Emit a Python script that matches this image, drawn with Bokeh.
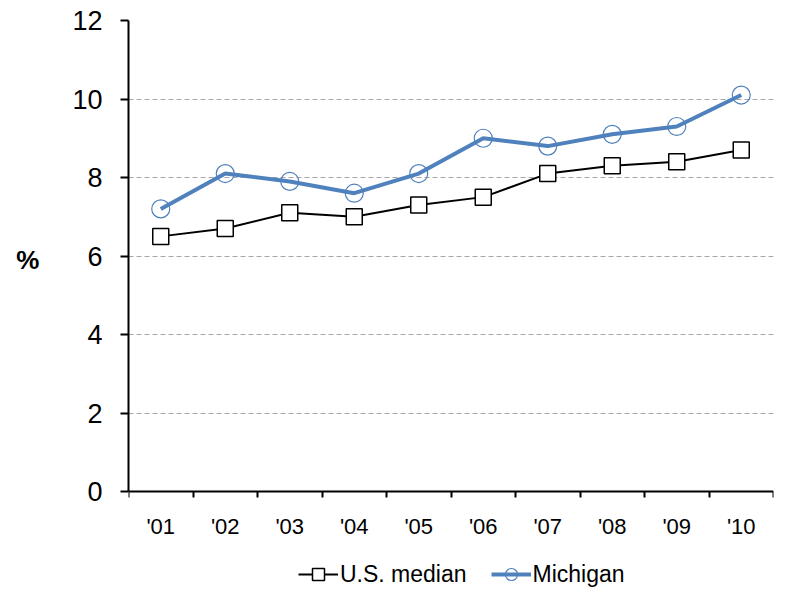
from bokeh.plotting import figure
from bokeh.models import (FixedTicker, Range1d, Legend, LegendItem)
from bokeh.embed import file_html
from bokeh.resources import INLINE

years = ["'01", "'02", "'03", "'04", "'05", "'06", "'07", "'08", "'09", "'10"]
us_median = [6.5, 6.7, 7.1, 7.0, 7.3, 7.5, 8.1, 8.3, 8.4, 8.7]
michigan = [7.2, 8.1, 7.9, 7.6, 8.1, 9.0, 8.8, 9.1, 9.3, 10.1]
y_ticks = [0, 2, 4, 6, 8, 10, 12]

FONT = "Liberation Sans"
BLUE = "#4F81BD"

xs = [i + 0.5 for i in range(len(years))]

# layout in pixels: plot area 471 px tall for 0..12, extra room below for
# the category labels and the legend
H, TOP, PLOT_H = 589, 20, 471
below_units = (H - TOP - PLOT_H) * 12.0 / PLOT_H

p = figure(width=796, height=H, output_backend="svg", toolbar_location=None,
           x_range=Range1d(0, len(years)), y_range=Range1d(-below_units, 12),
           min_border_left=128, min_border_right=23, min_border_top=TOP,
           min_border_bottom=0)
p.outline_line_color = None
p.background_fill_color = "white"

# x axis drawn at y = 0: labels at category centres, ticks at boundaries
p.xaxis.fixed_location = 0
p.xaxis.ticker = FixedTicker(ticks=xs, minor_ticks=list(range(len(years) + 1)))
p.xaxis.major_label_overrides = {x: lab for x, lab in zip(xs, years)}
p.xaxis.major_tick_line_color = None
p.xaxis.major_tick_out = 0
p.xaxis.major_tick_in = 0
p.xaxis.minor_tick_line_color = "black"
p.xaxis.minor_tick_line_width = 2
p.xaxis.minor_tick_out = 6
p.xaxis.minor_tick_in = 0
p.xaxis.axis_line_width = 2
p.xaxis.axis_line_color = "black"
p.xaxis.major_label_text_font = FONT
p.xaxis.major_label_text_font_size = "22px"
p.xaxis.major_label_text_color = "black"
p.xaxis.major_label_standoff = 16

# y axis
p.yaxis.bounds = (0, 12)
p.yaxis.ticker = FixedTicker(ticks=y_ticks)
p.yaxis.minor_tick_line_color = None
p.yaxis.major_tick_out = 8
p.yaxis.major_tick_in = 0
p.yaxis.major_tick_line_width = 2
p.yaxis.axis_line_width = 2
p.yaxis.axis_line_color = "black"
p.yaxis.major_label_text_font = FONT
p.yaxis.major_label_text_font_size = "27px"
p.yaxis.major_label_text_color = "black"
p.yaxis.major_label_standoff = 18
# "%" sits as first line of a 4-line block so it lines up with the 0..12 span
p.yaxis.axis_label = "%\n\n\n"
p.yaxis.axis_label_orientation = "horizontal"
p.yaxis.axis_label_text_font = FONT
p.yaxis.axis_label_text_font_style = "bold"
p.yaxis.axis_label_text_font_size = "26px"
p.yaxis.axis_label_text_line_height = 1.0
p.yaxis.axis_label_text_color = "black"
p.yaxis.axis_label_standoff = 30

p.xgrid.grid_line_color = None
p.ygrid.ticker = FixedTicker(ticks=y_ticks[1:])
p.ygrid.grid_line_color = "#A6A6A6"
p.ygrid.grid_line_dash = "5 3"
p.ygrid.grid_line_width = 1.2

l1 = p.line(xs, us_median, line_color="black", line_width=2)
s1 = p.scatter(xs, us_median, marker="square", size=16, line_color="black",
               line_width=1.5, fill_color="white")
l2 = p.line(xs, michigan, line_color=BLUE, line_width=4)
s2 = p.scatter(xs, michigan, marker="circle", size=18, line_color=BLUE,
               line_width=1.2, fill_color=None)

legend = Legend(items=[LegendItem(label="U.S. median", renderers=[l1, s1]),
                       LegendItem(label="Michigan", renderers=[l2, s2])],
                location=(170, 0), orientation="horizontal",
                label_text_font=FONT, label_text_font_size="23px",
                label_text_color="black", glyph_width=40, glyph_height=30,
                label_height=30,
                label_standoff=2, spacing=24, padding=0, margin=0,
                border_line_color=None, background_fill_alpha=0)
p.add_layout(legend, "center")

open("out.html", "w").write(file_html(p, INLINE))
